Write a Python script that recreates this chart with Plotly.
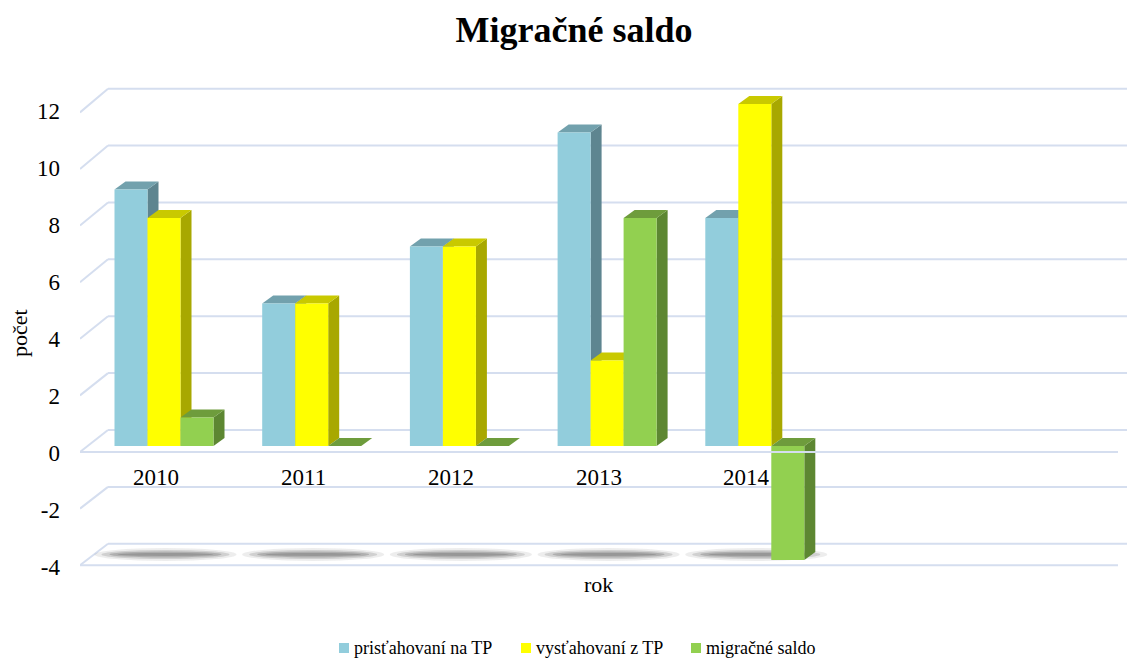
import plotly.graph_objects as go

# ---------------- data ----------------
years = ["2010", "2011", "2012", "2013", "2014"]
pristahovani = [9, 5, 7, 11, 8]
vystahovani = [8, 5, 7, 3, 12]
saldo = [1, 0, 0, 8, -4]
series_names = ["prisťahovaní na TP", "vysťahovaní z TP", "migračné saldo"]
y_ticks = [-4, -2, 0, 2, 4, 6, 8, 10, 12]

# ---------------- style ----------------
front_cols = ["#92CDDC", "#FFFF00", "#92D050"]
top_cols = ["#72A1AD", "#C9C900", "#6E9C3C"]
side_cols = ["#5E8590", "#A8A800", "#5D8732"]
grid_col = "#D5DEEF"
FONT = "Liberation Serif"

OFF = 8                      # page body margin
W, H = 1135 - OFF, 659 - OFF
ML, MR, MT = 80 - OFF, 0, 80 - OFF
PLOT_B = 580 - OFF
MB = H - PLOT_B
PW, PH = W - ML - MR, H - MT - MB
x_range = [-0.5687, 6.5741]
y_range = [-4.702, 12.842]
px_x = PW / (x_range[1] - x_range[0])
px_y = PH / (y_range[1] - y_range[0])


def paper_x(wx):
    return (wx - OFF - ML) / PW


def paper_y(wy):
    return (PLOT_B - (wy - OFF)) / PH


bar_w = 33 / px_x
offsets = [-1.5 * bar_w, -0.5 * bar_w, 0.5 * bar_w]
DX = 11 / px_x          # depth offset of 3D faces
DY = 8 / px_y
WALL_DX = 28 / px_x     # left wall depth
BACK_DY = 16 / px_y     # back wall raised against bar plane
FRONT_DY = -6 / px_y    # front plane lowered against bar plane
front_right = x_range[0] + (1118 - 80) / px_x

xs = list(range(len(years)))
all_series = [pristahovani, vystahovani, saldo]

fig = go.Figure()
for k, (name, vals) in enumerate(zip(series_names, all_series)):
    fig.add_trace(go.Bar(
        x=xs, y=vals, name=name, width=bar_w, offset=offsets[k],
        marker=dict(color=front_cols[k], line=dict(width=0)),
        hovertemplate="%{y}<extra>" + name + "</extra>",
        showlegend=False,
    ))

shapes = []
# gridlines: left wall diagonals + back wall horizontals
for v in y_ticks:
    yf = v * 0.993 + FRONT_DY
    yb = v * 0.998 + BACK_DY
    shapes.append(dict(type="line", xref="x", yref="y", layer="below",
                       x0=x_range[0], y0=yf, x1=x_range[0] + WALL_DX, y1=yb,
                       line=dict(color=grid_col, width=2)))
    shapes.append(dict(type="line", xref="x", yref="y", layer="below",
                       x0=x_range[0] + WALL_DX, y0=yb, x1=x_range[1], y1=yb,
                       line=dict(color=grid_col, width=2)))

# floor shadows
floor_mid = (y_ticks[0] * 0.993 + FRONT_DY + y_ticks[0] * 0.998 + BACK_DY) / 2
for i in xs:
    for wpx, hpx, op in [(142, 13, 0.12), (128, 9, 0.22), (112, 6, 0.32), (96, 3, 0.35)]:
        cx = i + 0.01
        shapes.append(dict(type="circle", xref="x", yref="y", layer="below",
                           x0=cx - wpx / 2 / px_x, x1=cx + wpx / 2 / px_x,
                           y0=floor_mid - hpx / 2 / px_y, y1=floor_mid + hpx / 2 / px_y,
                           fillcolor="#6A6A6A", opacity=op, line=dict(width=0)))

# 3D faces (top + side) of each bar
for k, vals in enumerate(all_series):
    for i, v in zip(xs, vals):
        xl = i + offsets[k]
        xr = xl + bar_w
        top = max(v, 0)
        bot = min(v, 0)
        side = (f"M{xr},{bot} L{xr},{top} L{xr + DX},{top + DY} "
                f"L{xr + DX},{bot + DY} Z")
        shapes.append(dict(type="path", xref="x", yref="y", layer="below",
                           path=side, fillcolor=side_cols[k],
                           line=dict(width=0)))
        topf = (f"M{xl},{top} L{xr},{top} L{xr + DX},{top + DY} "
                f"L{xl + DX},{top + DY} Z")
        shapes.append(dict(type="path", xref="x", yref="y", layer="below",
                           path=topf, fillcolor=top_cols[k],
                           line=dict(width=0)))

# front edges (axis line at 0 and floor edge)
for v in [0, y_ticks[0]]:
    yf = v * 0.993 + FRONT_DY
    shapes.append(dict(type="line", xref="x", yref="y", layer="above",
                       x0=x_range[0], y0=yf, x1=front_right, y1=yf,
                       line=dict(color=grid_col, width=2)))

annotations = []
for i, lab in zip(xs, years):
    annotations.append(dict(x=i, y=0, xref="x", yref="y", text=lab,
                            showarrow=False, xshift=-8, yshift=-32,
                            font=dict(family=FONT, size=23, color="#000000")))
annotations.append(dict(x=paper_x(19), y=paper_y(333), xref="paper", yref="paper",
                        text="počet", textangle=-90, showarrow=False,
                        xanchor="center", yanchor="middle", borderpad=0,
                        font=dict(family=FONT, size=22, color="#000000")))
annotations.append(dict(x=paper_x(598), y=paper_y(584),
                        xref="paper", yref="paper", text="rok", showarrow=False,
                        xanchor="center", yanchor="middle",
                        font=dict(family=FONT, size=22, color="#000000")))

# legend (drawn manually to match the compact Excel legend)
leg_marker_x = [339, 521, 691]
leg_y = 648
for k, name in enumerate(series_names):
    mx = leg_marker_x[k]
    shapes.append(dict(type="rect", xref="paper", yref="paper", layer="above",
                       x0=paper_x(mx), x1=paper_x(mx + 10),
                       y0=paper_y(leg_y + 5), y1=paper_y(leg_y - 5),
                       fillcolor=front_cols[k], line=dict(width=0)))
    annotations.append(dict(x=paper_x(mx + 13), y=paper_y(leg_y), xref="paper",
                            yref="paper", text=name, showarrow=False,
                            xanchor="left", yanchor="middle",
                            font=dict(family=FONT, size=18, color="#000000")))

fig.update_layout(
    width=W, height=H,
    margin=dict(l=ML, r=MR, t=MT, b=MB, autoexpand=False),
    paper_bgcolor="white", plot_bgcolor="white",
    barmode="overlay",
    title=dict(text="<b>Migračné saldo</b>", x=(574 - OFF) / W, xanchor="center",
               xref="container", yref="container", y=1 - 21 / H, yanchor="middle",
               font=dict(family=FONT, size=36, color="#000000")),
    xaxis=dict(range=x_range, showgrid=False, zeroline=False, automargin=False,
               showticklabels=False, showline=False, fixedrange=True),
    yaxis=dict(range=y_range, showgrid=False, zeroline=False, showline=False,
               automargin=False,
               tickvals=y_ticks, ticktext=[str(t) for t in y_ticks],
               ticklabelshift=7, ticklabelstandoff=19,
               tickfont=dict(family=FONT, size=23, color="#000000")),
    shapes=shapes,
    annotations=annotations,
    showlegend=False,
)

fig.write_html("out.html")
